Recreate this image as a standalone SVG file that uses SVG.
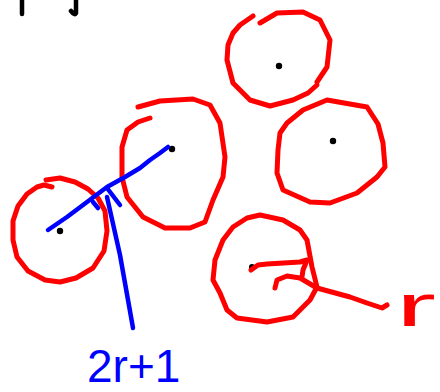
<svg xmlns="http://www.w3.org/2000/svg" width="440" height="392" viewBox="0 0 440 392">
<style>
.red{fill:none;stroke:#ff0000;stroke-width:5;stroke-linecap:round;stroke-linejoin:round}
.blue{fill:none;stroke:#0000ff;stroke-width:4.5;stroke-linecap:round;stroke-linejoin:round}
.ink{fill:none;stroke:#000;stroke-width:4.5;stroke-linecap:round;stroke-linejoin:round}
.dot{fill:#000}
</style>
<rect width="440" height="392" fill="#fff"/>
<path class="ink" d="M22 0 L22 14"/>
<path class="ink" d="M76 0 L76 13 Q75 16 71 11"/>
<g id="circle1">
<path class="red" d="M52 187 L44 185 L37 187 L27 194 L18 206 L13 221 L13 240 L17 257 L28 271 L45 280 L60 282 L76 278 L93 268 L104 251 L107 231 L105 211 L98 198 L88 189 L75 182 L60 178 L46 180"/>
<circle class="dot" cx="60" cy="231" r="3.2"/>
</g>
<g id="circle2">
<path class="red" d="M138 107 L160 101 L193 99 L210 105 L220 123 L225 157 L223 177 L213 200 L205 222 L190 228 L165 228 L143 217 L127 197 L122 177 L122 147 L127 130 L138 122 L150 118"/>
<circle class="dot" cx="172" cy="149" r="3.2"/>
</g>
<g id="circle3">
<path class="red" d="M253 16 L240 25 L233 33 L228 45 L227 60 L233 83 L250 100 L270 106 L293 100 L308 93 L317 85"/>
<path class="red" d="M317 82 L327 67 L330 40 L320 20 L303 12 L277 13 L260 23"/>
<circle class="dot" cx="279" cy="66" r="3.2"/>
</g>
<g id="circle4">
<path class="red" d="M327 100 L367 107 L378 124 L383 143 L385 167 L377 177 L357 193 L330 203 L310 202 L283 190 L277 173 L278 150 L280 133 L287 123 L303 110 Z"/>
<circle class="dot" cx="333" cy="141" r="3.2"/>
</g>
<g id="circle5">
<path class="red" d="M260 215 L283 220 L300 230 L307 240 L312 267 L317 287 L310 300 L293 317 L267 322 L237 318 L227 310 L220 293 L213 280 L215 260 L223 240 L233 227 L247 218 Z"/>
<circle class="dot" cx="252" cy="267" r="3"/>
</g>
<g id="connectors">
<path class="red" d="M251 270 L258 265 L267 264 L300 262 L307 260 L303 270 L302 277"/>
<path class="red" d="M275 288 L277 280 L287 276 L300 278 L317 288 L350 297 L367 303 L382 308 L387 305"/>
<path class="blue" d="M48 230 L67 217 L87 202 L107 187 L125 177 L140 168 L150 160 L160 153 L168 147"/>
<path class="blue" d="M107 188 L120 205"/>
<path class="blue" d="M107 197 L120 255 L133 328"/>
<path class="blue" d="M93 202 L98 208"/>
</g>
<text x="87" y="382" font-family="Liberation Sans, Arial, sans-serif" font-size="46" fill="#0000ff">2r+1</text>
<text transform="translate(396 326) scale(2 1)" font-family="Liberation Sans, Arial, sans-serif" font-size="60" fill="#ff0000">r</text>
</svg>
